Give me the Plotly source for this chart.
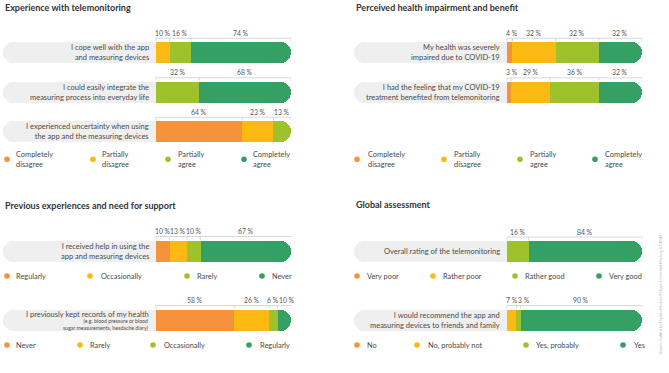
import plotly.graph_objects as go

W, H = 669, 373
FONT = "Lato"
COLORS = ["#F7923C", "#FDB913", "#9DC22B", "#35A064"]
PILL = "#EFEFEF"
TXT = "#4A4A4A"
TITLE_C = "#333333"
LINE_C = "#C9C9C9"

# ---------------- data ----------------
# Panel 1: Experience with telemonitoring
p1_title = "Experience with telemonitoring"
p1_statements = ["I cope well with the app<br>and measuring devices",
                 "I could easily integrate the<br>measuring process into everyday life",
                 "I experienced uncertainty when using<br>the app and the measuring devices"]
p1_completely_disagree = [0, 0, 64]
p1_partially_disagree = [10, 0, 23]
p1_partially_agree = [16, 32, 13]
p1_completely_agree = [74, 68, 0]
p1_legend = ["Completely<br>disagree", "Partially<br>disagree", "Partially<br>agree", "Completely<br>agree"]

# Panel 2: Perceived health impairment and benefit
p2_title = "Perceived health impairment and benefit"
p2_statements = ["My health was severely<br>impaired due to COVID-19",
                 "I had the feeling that my COVID-19<br>treatment benefited from telemonitoring"]
p2_completely_disagree = [4, 3]
p2_partially_disagree = [32, 29]
p2_partially_agree = [32, 36]
p2_completely_agree = [32, 32]
p2_legend = ["Completely<br>disagree", "Partially<br>disagree", "Partially<br>agree", "Completely<br>agree"]

# Panel 3: Previous experiences and need for support
p3_title = "Previous experiences and need for support"
p3_statements = ["I received help in using the<br>app and measuring devices",
                 "I previously kept records of my health"]
p3_notes = ["", "(e.g. blood pressure or blood<br>sugar measurements, headache diary)"]
p3_help = [10, 13, 10, 67]          # Regularly, Occasionally, Rarely, Never
p3_help_legend = ["Regularly", "Occasionally", "Rarely", "Never"]
p3_records = [58, 26, 6, 10]        # Never, Rarely, Occasionally, Regularly
p3_records_legend = ["Never", "Rarely", "Occasionally", "Regularly"]

# Panel 4: Global assessment
p4_title = "Global assessment"
p4_statements = ["Overall rating of the telemonitoring",
                 "I would recommend the app and<br>measuring devices to friends and family"]
p4_rating = [0, 0, 16, 84]          # Very poor, Rather poor, Rather good, Very good
p4_rating_legend = ["Very poor", "Rather poor", "Rather good", "Very good"]
p4_recommend = [0, 7, 3, 90]        # No, No probably not, Yes probably, Yes
p4_recommend_legend = ["No", "No, probably not", "Yes, probably", "Yes"]

credit = "Graphic: Institut für Digitale Medizin, Philipps-Universität Marburg & UKGM"

# ---------------- layout geometry (pixels) ----------------
panels = [
    dict(title=p1_title, statements=p1_statements, notes=["", "", ""],
         rows=[list(r) for r in zip(p1_completely_disagree, p1_partially_disagree,
                                    p1_partially_agree, p1_completely_agree)],
         xl=3, x0=156, x1=291, c0=52.75, s=39.5, dom=(18, 146), ty=7.5,
         legends=[dict(labels=p1_legend, y=159.3, dots=[7, 93, 168, 244], tx=[14, 100, 176, 251])]),
    dict(title=p2_title, statements=p2_statements, notes=["", ""],
         rows=[list(r) for r in zip(p2_completely_disagree, p2_partially_disagree,
                                    p2_partially_agree, p2_completely_agree)],
         xl=354, x0=507, x1=642, c0=52.75, s=39.6, dom=(18, 146), ty=7.0,
         legends=[dict(labels=p2_legend, y=159.3, dots=[357, 444, 520, 595], tx=[366, 452, 528, 603])]),
    dict(title=p3_title, statements=p3_statements, notes=p3_notes,
         rows=[p3_help, p3_records],
         xl=3, x0=156, x1=291, c0=251, s=69, dom=(215, 340), ty=205,
         legends=[dict(labels=p3_help_legend, y=276, dots=[7, 90, 187, 262], tx=[14, 99, 195, 270]),
                  dict(labels=p3_records_legend, y=345, dots=[7, 80, 153, 249], tx=[14, 88, 162, 258])]),
    dict(title=p4_title, statements=p4_statements, notes=["", ""],
         rows=[p4_rating, p4_recommend],
         xl=354, x0=507, x1=642, c0=251.5, s=68.5, dom=(215, 340), ty=204.5,
         legends=[dict(labels=p4_rating_legend, y=276, dots=[357, 433, 515, 599], tx=[365, 441, 523, 607]),
                  dict(labels=p4_recommend_legend, y=345, dots=[357, 417, 526, 623], tx=[365, 426, 534, 632])]),
]

BAR_PX = 21
fig = go.Figure()
shapes, annotations = [], []
axis_ids = ["", "2", "3", "4"]

for k, p in enumerate(panels):
    ax = axis_ids[k]
    xn, yn = "x" + ax, "y" + ax
    n = len(p["rows"])
    idx = list(range(n))
    G = (p["x0"] - p["xl"]) / (p["x1"] - p["x0"]) * 100.0
    px_per_unit = (p["x1"] - p["x0"]) / 100.0
    s = p["s"]
    bw = BAR_PX / s

    # gray pill (negative side)
    fig.add_trace(go.Bar(y=idx, x=[-G] * n, orientation="h", width=bw,
                         marker=dict(color=PILL, line=dict(width=0)),
                         xaxis=xn, yaxis=yn, showlegend=False, hoverinfo="skip"))
    # coloured segments
    for c in range(4):
        vals = [row[c] for row in p["rows"]]
        fig.add_trace(go.Bar(y=idx, x=vals, orientation="h", width=bw,
                             marker=dict(color=COLORS[c], line=dict(width=0)),
                             xaxis=xn, yaxis=yn, showlegend=False, hoverinfo="skip"))

    dt, db = p["dom"]
    fig.layout["xaxis" + ax] = dict(domain=[p["xl"] / W, p["x1"] / W], range=[-G, 100],
                                    visible=False, anchor=yn, fixedrange=True)
    fig.layout["yaxis" + ax] = dict(domain=[1 - db / H, 1 - dt / H],
                                    range=[(db - p["c0"]) / s, (dt - p["c0"]) / s],
                                    visible=False, anchor=xn, fixedrange=True)

    # title
    annotations.append(dict(text="<b>" + p["title"] + "</b>", xref="paper", yref="paper",
                            x=p["xl"] / W, y=1 - p["ty"] / H, xanchor="left", yanchor="middle",
                            showarrow=False, font=dict(family=FONT, size=9, color=TITLE_C)))

    for i, row in enumerate(p["rows"]):
        note = p["notes"][i]
        # statement text
        annotations.append(dict(text=p["statements"][i], xref=xn, yref=yn, x=0,
                                y=i - (6 / s if note else 0), xanchor="right", yanchor="middle",
                                xshift=-5, align="right", showarrow=False,
                                font=dict(family=FONT, size=7.5, color=TXT)))
        if note:
            annotations.append(dict(text=note, xref=xn, yref=yn, x=0, y=i + 4.5 / s,
                                    xanchor="right", yanchor="middle", xshift=-5, align="right",
                                    showarrow=False, font=dict(family=FONT, size=5.2, color=TXT)))
        # bracket line above bar
        yl = i - (bw / 2 + 4 / s)
        shapes.append(dict(type="line", xref=xn, yref=yn, x0=0, x1=100, y0=yl, y1=yl,
                           line=dict(color=LINE_C, width=0.7)))
        cum = 0
        bounds = [0]
        for v in row:
            cum += v
            if v > 0:
                bounds.append(cum)
        for b in bounds:
            shapes.append(dict(type="line", xref=xn, yref=yn, x0=b, x1=b, y0=yl, y1=yl + 3 / s,
                               line=dict(color=LINE_C, width=0.7)))
        # percent labels
        cum = 0
        prev_right = -1e9
        ylab = i - (bw / 2 + 9.5 / s)
        for v in row:
            if v > 0:
                lab = f"{v} %"
                wpx = len(lab) * 3.4
                mid_px = (cum + v / 2) * px_per_unit
                cpx = max(mid_px, wpx / 2, prev_right + 2.0 + wpx / 2)
                prev_right = cpx + wpx / 2
                annotations.append(dict(text=lab, xref=xn, yref=yn, x=cpx / px_per_unit, y=ylab,
                                        xanchor="center", yanchor="middle", showarrow=False,
                                        font=dict(family=FONT, size=6.8, color="#555555")))
            cum += v

    # legends
    for lg in p["legends"]:
        for j, lab in enumerate(lg["labels"]):
            shapes.append(dict(type="circle", xref="paper", yref="paper",
                               xsizemode="pixel", ysizemode="pixel",
                               xanchor=lg["dots"][j] / W, yanchor=1 - lg["y"] / H,
                               x0=-2.8, x1=2.8, y0=-2.8, y1=2.8,
                               fillcolor=COLORS[j], line=dict(width=0)))
            annotations.append(dict(text=lab, xref="paper", yref="paper",
                                    x=lg["tx"][j] / W, y=1 - lg["y"] / H,
                                    xanchor="left", yanchor="middle", align="left",
                                    showarrow=False, font=dict(family=FONT, size=7.4, color=TXT)))

annotations.append(dict(text=credit, xref="paper", yref="paper", x=660 / W, y=1 - 294.5 / H,
                        textangle=-90, xanchor="center", yanchor="middle", showarrow=False,
                        font=dict(family=FONT, size=3.6, color="#B5B5B5")))

fig.update_layout(width=W, height=H, margin=dict(l=0, r=0, t=0, b=0),
                  paper_bgcolor="white", plot_bgcolor="white",
                  barmode="relative", barcornerradius="50%", bargap=0,
                  shapes=shapes, annotations=annotations, font=dict(family=FONT),
                  hovermode=False)

fig.write_html("out.html", config={"displayModeBar": False},
               post_script="document.body.style.margin='0';document.body.style.overflow='hidden';")
